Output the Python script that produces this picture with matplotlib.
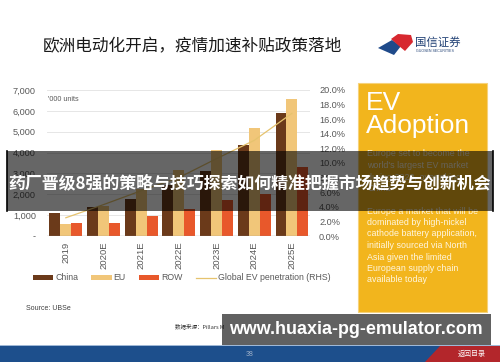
import numpy as np
import matplotlib
matplotlib.use("Agg")
import matplotlib.pyplot as plt
from matplotlib.patches import Rectangle, Polygon

# ---- data ----
years = ["2019", "2020E", "2021E", "2022E", "2023E", "2024E", "2025E"]
china = [1080, 1370, 1760, 2450, 3110, 4370, 5920]
eu = [560, 1460, 2250, 3170, 4140, 5180, 6560]
row = [600, 630, 950, 1300, 1750, 2000, 3300]
penetration = [0.025, 0.043, 0.062, 0.080, 0.106, 0.131, 0.168]

left_ticks = [0, 1000, 2000, 3000, 4000, 5000, 6000, 7000]
left_labels = ["-", "1,000", "2,000", "3,000", "4,000", "5,000", "6,000", "7,000"]
right_ticks = [0, 0.02, 0.04, 0.06, 0.08, 0.10, 0.12, 0.14, 0.16, 0.18, 0.20]

title = "欧洲电动化开启，疫情加速补贴政策落地"
banner = "药厂晋级8强的策略与技巧探索如何精准把握市场趋势与创新机会"
url = "www.huaxia-pg-emulator.com"
para1 = ["Europe set to become the", "world's largest EV market",
         "during 2020, overtaking", "China"]
para2 = ["Europe a market that will be", "dominated by high-nickel",
         "cathode battery application,", "initially sourced via North",
         "Asia given the limited", "European supply chain", "available today"]

C_CHINA = "#6b3a1a"
C_EU = "#f1c679"
C_ROW = "#e8582b"
C_LINE = "#e6c36e"
GRAY = "#595959"
CJK = ["Noto Sans CJK SC", "DejaVu Sans"]

W, H = 500, 362
fig = plt.figure(figsize=(5, 3.62), dpi=100)
fig.patch.set_facecolor("white")

# ---- chart ----
ax = fig.add_axes([47 / W, 1 - 236 / H, 263 / W, 146 / H], zorder=1)
x = np.arange(len(years))
bw = 0.29
b1 = ax.bar(x - bw, china, bw, color=C_CHINA, label="China")
b2 = ax.bar(x, eu, bw, color=C_EU, label="EU")
b3 = ax.bar(x + bw, row, bw, color=C_ROW, label="ROW")
ax.set_xlim(-0.5, 6.48)
ax.set_ylim(0, 7000)
ax.set_yticks(left_ticks)
ax.set_yticklabels(left_labels)
ax.yaxis.grid(True, color="#e6e6e6", lw=0.7)
ax.set_axisbelow(True)
for s in ax.spines.values():
    s.set_visible(False)
ax.axhline(0, color="#8c8c8c", lw=0.9)
ax.tick_params(axis="y", length=0, pad=8, labelsize=6.6, labelcolor=GRAY)
ax.set_xticks(x)
ax.set_xticklabels(years, rotation=90)
ax.tick_params(axis="x", length=0, pad=4, labelsize=6.8, labelcolor=GRAY)
for t in ax.get_xticklabels() + ax.get_yticklabels():
    t.set_family("Liberation Sans")

ax2 = ax.twinx()
ln, = ax2.plot(x, penetration, color=C_LINE, lw=0.9,
               label="Global EV penetration (RHS)")
ax2.set_ylim(0, 0.20)
ax2.set_yticks(right_ticks)
ax2.set_yticklabels([f"{v * 100:.1f}%" for v in right_ticks])
ax2.tick_params(axis="y", length=0, pad=6.5, labelsize=6.6, labelcolor=GRAY)
for t in ax2.get_yticklabels():
    t.set_family("Liberation Sans")
for s in ax2.spines.values():
    s.set_visible(False)

ax.text(0.003, 0.935, "'000 units", transform=ax.transAxes, fontsize=5.2,
        color=GRAY, family="Liberation Sans", va="center")

fig.legend(handles=[b1, b2, b3, ln], loc="center left",
           bbox_to_anchor=(33 / W, 1 - 278 / H), ncol=4, frameon=False,
           prop={"family": "Liberation Sans", "size": 6.3},
           labelcolor=GRAY, handlelength=2.3, handleheight=0.6,
           handletextpad=0.25, columnspacing=1.5, borderpad=0, borderaxespad=0)

# ---- slide decoration / overlays in pixel coordinates ----
ov = fig.add_axes([0, 0, 1, 1], zorder=10)
ov.set_xlim(0, W)
ov.set_ylim(H, 0)
ov.axis("off")
ov.patch.set_alpha(0)

ov.text(43, 47, title, fontsize=12, family=CJK, color="#1a1a1a", va="center")

# logo
ov.add_patch(Polygon([(378, 48), (392, 40), (401, 46), (394, 55)],
                     closed=True, color="#1f4a8a", lw=0))
ov.add_patch(Polygon([(391, 39), (398, 34), (411, 35), (413, 42), (405, 51),
                      (399, 46)], closed=True, color="#d7282f", lw=0))
ov.text(415, 42, "国信证券", fontsize=8.2, family=CJK, color="#1f3f73", va="center")
ov.text(415.5, 51.5, "GUOSEN SECURITIES", fontsize=2.6, family="Liberation Sans",
        color="#1f3f73", va="center")

ov.text(26, 308, "Source: UBSe", fontsize=5, family="Liberation Sans",
        color="#404040", va="center")

# yellow panel
ov.add_patch(Rectangle((358, 83), 129, 229, facecolor="#f2b51d",
                       edgecolor="#f6d27a", lw=0.8, zorder=1))
ov.text(366, 103, "EV", fontsize=19, color="white", family="Liberation Sans",
        va="center", zorder=2)
ov.text(366, 126, "Adoption", fontsize=19, color="white",
        family="Liberation Sans", va="center", zorder=2)
for i, s in enumerate(para1):
    ov.text(367, 154 + i * 11.5, s, fontsize=6.4, color="#fff6df",
            family="Liberation Sans", va="center", zorder=2)
for i, s in enumerate(para2):
    ov.text(367, 211 + i * 11.5, s, fontsize=6.4, color="#fff6df",
            family="Liberation Sans", va="center", zorder=2)

# footer band
ov.add_patch(Rectangle((0, 346), W, 16, facecolor="#1d4f8c", lw=0, zorder=1))
ov.add_patch(Rectangle((0, 345), W, 1.2, facecolor="#9fb8d6", lw=0, zorder=1))
ov.add_patch(Polygon([(440, 346), (500, 346), (500, 362), (425, 362)],
                     closed=True, facecolor="#b3262b", lw=0, zorder=1))
ov.text(250, 354, "38", fontsize=5, color="#9fb0c8", ha="center", va="center",
        family="Liberation Sans", zorder=2)
ov.text(486, 354, "返回目录", fontsize=5, color="white", ha="right",
        va="center", family=CJK, zorder=2)
ov.text(175, 326, "数据来源：Pillars M", fontsize=4, color="#333333",
        family=CJK, va="center", zorder=2)

# grey caption banners
ov.add_patch(Rectangle((7, 151), 486, 60, facecolor="black", alpha=0.6,
                       lw=0, zorder=5))
ov.plot([7, 7], [151, 211], color="black", lw=1.2, zorder=5)
ov.plot([493, 493], [151, 211], color="black", lw=1.2, zorder=5)
ov.text(250, 183, banner, fontsize=12.2, family=CJK, weight="bold",
        color="white", ha="center", va="center", zorder=6)

ov.add_patch(Rectangle((222, 314), 269, 31, facecolor="black", alpha=0.62,
                       lw=0, zorder=5))
ov.text(356, 330, url, fontsize=12.9, family="Liberation Sans", weight="bold",
        color="white", ha="center", va="center", zorder=6)

fig.savefig("out.png", dpi=100)
